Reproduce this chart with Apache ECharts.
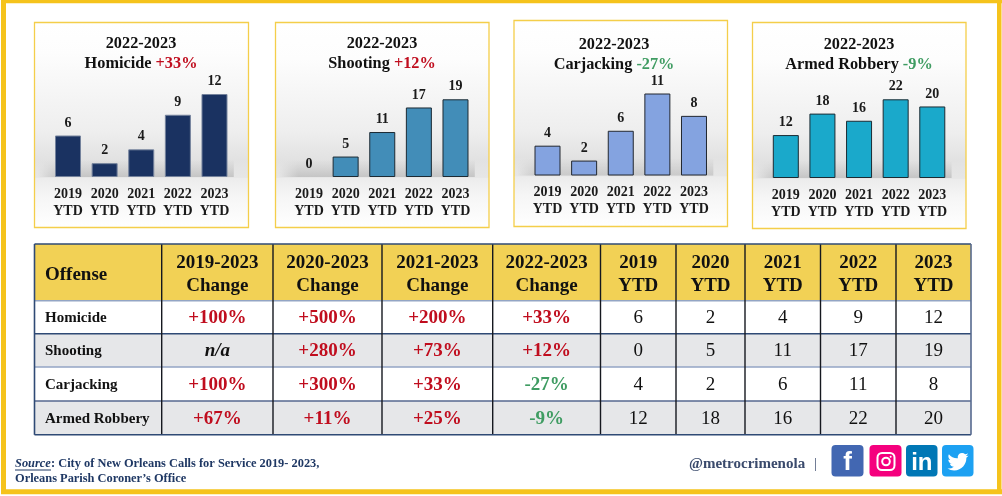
<!DOCTYPE html>
<html><head><meta charset="utf-8">
<style>html,body{margin:0;padding:0;background:#fff}#c{width:1002px;height:496px}</style>
<script src="https://cdn.jsdelivr.net/npm/echarts@6/dist/echarts.min.js"></script>
</head><body><div id="c"></div>
<script>
const categories = ['2019\nYTD','2020\nYTD','2021\nYTD','2022\nYTD','2023\nYTD'];
const homicide = [6,2,4,9,12];
const shooting = [0,5,11,17,19];
const carjacking = [4,2,6,11,8];
const armedRobbery = [12,18,16,22,20];
const offenses = ['Homicide','Shooting','Carjacking','Armed Robbery'];
const change2019 = ['+100%','n/a','+100%','+67%'];
const change2020 = ['+500%','+280%','+300%','+11%'];
const change2021 = ['+200%','+73%','+33%','+25%'];
const change2022 = ['+33%','+12%','-27%','-9%'];
const tableHeaders = ['Offense','2019-2023\nChange','2020-2023\nChange','2021-2023\nChange','2022-2023\nChange','2019\nYTD','2020\nYTD','2021\nYTD','2022\nYTD','2023\nYTD'];

const SERIF = '"Liberation Serif","Times New Roman",serif';
const RED = '#C00D1E', GREEN = '#3F9C62', YEL = '#F5C31C', NAVY = '#1F3864';

const panels = [
 {name:'Homicide',data:homicide,chg:change2022[0],box:[34.5,22.5,214,205],gl:49.7,gr:232.8,gt:94,gb:177,color:'#1A3261',border:'#74829c',tx:141,ty:44.5},
 {name:'Shooting',data:shooting,chg:change2022[1],box:[275.5,22.5,213.5,205],gl:290.7,gr:473.8,gt:99.3,gb:177,color:'#428DB8',border:'#1c2a33',tx:382,ty:44.5},
 {name:'Carjacking',data:carjacking,chg:change2022[2],box:[514,20.5,213.5,206],gl:529.2,gr:712.3,gt:93.5,gb:175.5,color:'#84A3E0',border:'#22272f',tx:614,ty:45.5},
 {name:'Armed Robbery',data:armedRobbery,chg:change2022[3],box:[752.5,22.5,213.5,206],gl:767.5,gr:950.6,gt:99.3,gb:178,color:'#1AA9CB',border:'#1b2b33',tx:859,ty:45.5}
];

const graphics = [];
const rect = (x,y,w,h,fill,extra) => graphics.push(Object.assign({type:'rect',silent:true,shape:{x,y,width:w,height:h},style:{fill}},extra||{}));
const text = (x,y,t,font,fill,align) => graphics.push({type:'text',silent:true,x,y:y+1,style:{text:t,font,fill,align:align||'center',verticalAlign:'middle'}});

// outer frame
rect(1,0,1001,3.2,YEL); rect(1,489.3,1001,5,YEL); rect(1,0,5,494,YEL); rect(997,0,4.5,494,YEL);

// chart cards
panels.forEach(p=>{
  const [x,y,w,h]=p.box;
  const f=v=>(v-y)/h;
  graphics.push({type:'rect',silent:true,shape:{x,y,width:w,height:h},style:{stroke:'#F4CE4A',lineWidth:1.3,
    fill:{type:'linear',x:0,y:0,x2:0,y2:1,colorStops:[
      {offset:0,color:'#fff'},{offset:f(p.gt-40),color:'#fdfdfd'},{offset:f(p.gb-45),color:'#eeeeee'},
      {offset:f(p.gb-18),color:'#e2e2e2'},{offset:f(p.gb),color:'#e6e6e6'},{offset:f(p.gb+1),color:'#ececec'},
      {offset:f(p.gb+20),color:'#f6f6f6'},{offset:1,color:'#ffffff'}]}}});
  // soft shadow band behind the bar feet, fading in from the left and from above
  const bx=p.gl-12, bw=p.gr-p.gl+13, N=17;
  for(let k=0;k<N;k++){
    const a=(0.62*(k+1)/N).toFixed(3), c='rgba(178,178,178,'+a+')';
    rect(bx,p.gb-N+k,bw,1.05,{type:'linear',x:0,y:0,x2:1,y2:0,colorStops:[
      {offset:0,color:'rgba(178,178,178,0)'},{offset:0.1,color:c},{offset:1,color:c}]});
  }
});

// table
const colX=[34.5,161.7,273,382,492.7,600.5,676,745,820.5,896,971];
const rowY=[244,300.7,333.7,367,401,434.8];
const rowLine=['#93A5C4','#2F4A75','#93A5C4','#56698F'];
rect(colX[0],rowY[0],colX[10]-colX[0],rowY[1]-rowY[0],'#F2D155');
rect(colX[0],rowY[2],colX[10]-colX[0],rowY[3]-rowY[2],'#E6E7E9');
rect(colX[0],rowY[4],colX[10]-colX[0],rowY[5]-rowY[4],'#E6E7E9');
const hl=(x1,x2,y,c,lw)=>graphics.push({type:'line',silent:true,shape:{x1,y1:y,x2,y2:y},style:{stroke:c,lineWidth:lw}});
const vl=(x,y1,y2,c,lw)=>graphics.push({type:'line',silent:true,shape:{x1:x,y1,x2:x,y2},style:{stroke:c,lineWidth:lw}});
rowLine.forEach((c,i)=>hl(colX[0],colX[10],rowY[i+1],c,1.6));
for(let i=1;i<10;i++) vl(colX[i],rowY[0],rowY[5],'#15181f',1.4);
hl(colX[0],colX[10],rowY[0],'#2F4A75',1.6);
hl(colX[0],colX[10],rowY[5],'#2F4A75',1.6);
vl(colX[0],rowY[0],rowY[5],'#2F4A75',1.6);
vl(colX[10],rowY[0],rowY[5],'#56698F',1.6);

const mid=i=>(colX[i]+colX[i+1])/2, rmid=i=>(rowY[i]+rowY[i+1])/2;
text(45,274,tableHeaders[0],'bold 19px '+SERIF,'#111','left');
for(let i=1;i<10;i++){
  const [a,b]=tableHeaders[i].split('\n');
  text(mid(i),262,a,'bold 19px '+SERIF,'#111');
  text(mid(i),285,b,'bold 19px '+SERIF,'#111');
}
const changes=[change2019,change2020,change2021,change2022];
const ytd=[homicide,shooting,carjacking,armedRobbery];
offenses.forEach((o,r)=>{
  const y=rmid(r+1);
  text(45,y,o,'bold 15px '+SERIF,'#111','left');
  changes.forEach((col,c)=>{
    const v=col[r];
    if(v==='n/a') text(mid(c+1),y,v,'italic bold 19px '+SERIF,'#111');
    else text(mid(c+1),y,v,'bold 19px '+SERIF,v[0]==='+'?RED:GREEN);
  });
  ytd[r].forEach((v,c)=>text(mid(c+5),y,String(v),'19px '+SERIF,'#111'));
});

// footer
text(15,463,'Source','italic bold 12.4px '+SERIF,NAVY,'left');
rect(15,469.6,36,0.9,NAVY);
text(51,463,': City of New Orleans Calls for Service 2019- 2023,','bold 12.4px '+SERIF,NAVY,'left');
text(15,477.5,'Orleans Parish Coroner\u2019s Office','bold 12.4px '+SERIF,NAVY,'left');
text(689,463,'@metrocrimenola','bold 15px '+SERIF,'#3A4A6C','left');
text(815.5,463,'|','14px '+SERIF,'#3A4A6C');

// social icons
const BIRD='M23.953 4.57 a10 10 0 0 1 -2.825 .775 a4.958 4.958 0 0 0 2.163 -3.24 c-.951 .555 -2.005 .959 -3.127 1.184 a4.92 4.92 0 0 0 -8.384 4.482 C7.69 8.095 4.067 6.13 1.64 3.162 a4.822 4.822 0 0 0 -.666 2.475 c0 1.71 .87 3.213 2.188 4.096 a4.904 4.904 0 0 1 -2.228 -.616 v.06 a4.923 4.923 0 0 0 3.946 4.827 a4.996 4.996 0 0 1 -2.212 .085 a4.936 4.936 0 0 0 4.604 3.417 a9.867 9.867 0 0 1 -6.102 2.105 c-.39 0 -.779 -.023 -1.17 -.067 a13.995 13.995 0 0 0 7.557 2.209 c9.053 0 13.998 -7.496 13.998 -13.985 c0 -.21 0 -.42 -.015 -.63 A9.935 9.935 0 0 0 24 4.59 z';
echarts.graphic.registerShape('bird',echarts.graphic.extendPath(BIRD,{}));
const icon=(x,w,c)=>graphics.push({type:'rect',silent:true,shape:{x,y:445,width:w,height:31.5,r:4},style:{fill:c}});
icon(831.5,32,'#4267B2'); icon(869.5,32,'#F5007E'); icon(906,31.5,'#0077B5'); icon(942,31.5,'#1DA1F2');
text(847.5,461.5,'f','bold 26px "Liberation Sans",sans-serif','#fff');
graphics.push({type:'rect',silent:true,shape:{x:877.5,y:453,width:17,height:17,r:4.5},style:{fill:'none',stroke:'#fff',lineWidth:2}});
graphics.push({type:'circle',silent:true,shape:{cx:886,cy:461.5,r:3.8},style:{fill:'none',stroke:'#fff',lineWidth:2}});
graphics.push({type:'circle',silent:true,shape:{cx:890.6,cy:456.7,r:1},style:{fill:'#fff'}});
text(921.8,462,'in','bold 24px "Liberation Sans",sans-serif','#fff');
graphics.push({type:'bird',silent:true,x:947.5,y:451.4,scaleX:.875,scaleY:.875,style:{fill:'#fff'}});

const W=1002,H=496;
const option={
  animation:false,
  backgroundColor:'#fff',
  textStyle:{fontFamily:SERIF},
  graphic:{elements:graphics},
  title:panels.map(p=>({
    text:'2022-2023\n{n|'+p.name+' }{'+(p.chg[0]==='+'?'r':'g')+'|'+p.chg+'}',
    left:p.tx, top:p.ty-11, textAlign:'center', padding:0,
    textStyle:{fontFamily:SERIF,fontWeight:'bold',fontSize:16.3,lineHeight:20,color:'#111',
      rich:{n:{fontFamily:SERIF,fontWeight:'bold',fontSize:16.3,lineHeight:20,color:'#111'},
            r:{fontFamily:SERIF,fontWeight:'bold',fontSize:16.3,lineHeight:20,color:RED},
            g:{fontFamily:SERIF,fontWeight:'bold',fontSize:16.3,lineHeight:20,color:GREEN}}}
  })),
  grid:panels.map(p=>({left:p.gl,width:p.gr-p.gl,top:p.gt,height:p.gb-p.gt,containLabel:false})),
  xAxis:panels.map((p,i)=>({type:'category',gridIndex:i,data:categories,axisLine:{show:false},axisTick:{show:false},
    axisLabel:{interval:0,margin:8.5,fontFamily:SERIF,fontWeight:'bold',fontSize:14,lineHeight:17,color:'#1a1a1a'}})),
  yAxis:panels.map((p,i)=>({type:'value',gridIndex:i,min:0,max:Math.max(...p.data),show:false})),
  series:panels.map((p,i)=>({type:'bar',name:p.name,xAxisIndex:i,yAxisIndex:i,
    data:p.data.map(v=>v===0?{value:v,itemStyle:{borderWidth:0}}:v),barWidth:26,
    itemStyle:{color:p.color,borderColor:p.border,borderWidth:1},
    label:{show:true,position:'top',distance:5.5,fontFamily:SERIF,fontWeight:'bold',fontSize:14,color:'#1a1a1a'}}))
};
const chart=echarts.init(document.getElementById('c'),null,{renderer:'canvas',width:W,height:H});
chart.setOption(option);
</script></body></html>
